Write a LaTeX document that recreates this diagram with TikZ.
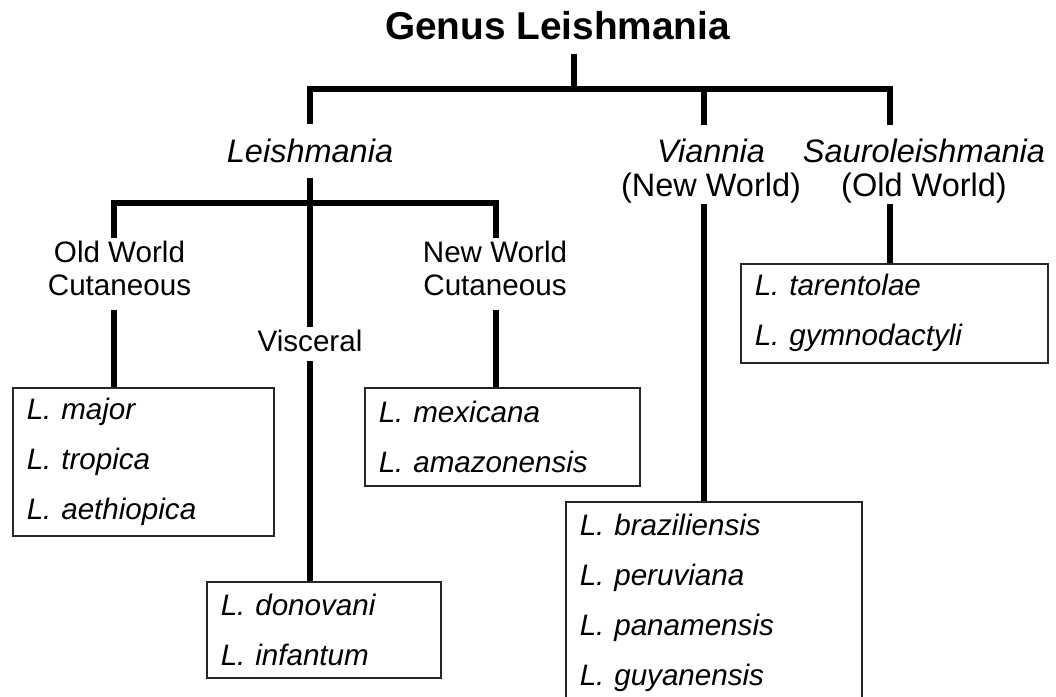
\documentclass[tikz,border=0pt]{standalone}
\usepackage{fontspec}
\setmainfont{Liberation Sans}
\usetikzlibrary{calc}
\begin{document}
\begin{tikzpicture}[x=1pt, y=-1pt,
    branch/.style = {line width=5.5pt},
    sub/.style = {font=\fontsize{32.5}{34}\selectfont, align=center, inner sep=0pt},
    grp/.style = {font=\fontsize{29.6}{33}\selectfont, align=center, inner sep=0pt},
    spp/.style = {draw=black!85, line width=1.5pt, anchor=north west, inner xsep=14pt, inner ysep=0pt,
                  align=left, font=\fontsize{29.6}{50}\selectfont\itshape}]
    \useasboundingbox (0,0) rectangle (1056,696);
    \clip (0,0) rectangle (1056,696);
    \node (title) at (557.5,39.5) [anchor=base, inner sep=0pt, font=\fontsize{38.8}{44}\selectfont\bfseries] {Genus Leishmania};
    \node[sub] (leish) at (310,162) [anchor=base] {\itshape Leishmania};
    \node[sub] (vian) at (711,138.7) [anchor=north] {{\itshape Viannia}\\(New World)};
    \node[sub] (sauro) at (924,138.7) [anchor=north] {{\itshape Sauroleishmania}\\(Old World)};
    \node[grp] (ow) at (119.5,240.5) [anchor=north] {Old World\\Cutaneous};
    \node[grp] (nw) at (495,240.5) [anchor=north] {New World\\Cutaneous};
    \node[grp] (visc) at (310,351) [anchor=base] {Visceral};
    \node[spp, text width=233pt, minimum height=148pt] (major) at (12,387) {L. major\\L. tropica\\L. aethiopica};
    \node[spp, text width=206pt, minimum height=96pt] (donov) at (206,581) {L. donovani\\L. infantum};
    \node[spp, text width=247pt, minimum height=98pt] (mexic) at (364,387) {L. mexicana\\L. amazonensis};
    \node[spp, text width=268pt, minimum height=202pt] (brazil) at (565,501) {L. braziliensis\\L. peruviana\\L. panamensis\\L. guyanensis};
    \node[spp, text width=279pt, minimum height=99pt] (taren) at (740,263) {L. tarentolae\\L. gymnodactyli};
    \coordinate (top) at (574,89);
    \coordinate (lbar) at (310,203);
    \draw[branch] ($(title.south)+(16.5,13.5)$) -- (top);
    \draw[branch] ($(leish.north)+(0,-14)$) |- (top) -| ($(sauro.north)+(-34,-14)$);
    \draw[branch] ($(vian.north)+(-7,-14)$) |- (top);
    \draw[branch] ($(ow.north)+(-5.5,-2.5)$) |- (lbar) -| ($(nw.north)+(1,-2.5)$);
    \draw[branch] ($(leish.south)+(0,15)$) -- ($(visc.north)+(0,-2.5)$);
    \draw[branch] ($(ow.south)+(-5.5,14)$) -- ($(major.north west)+(102,0)$);
    \draw[branch] ($(visc.south)+(0,10)$) -- ($(donov.north west)+(104,0)$);
    \draw[branch] ($(nw.south)+(1,14)$) -- ($(mexic.north west)+(132,0)$);
    \draw[branch] ($(vian.south)+(-7,0.5)$) -- ($(brazil.north west)+(139,0)$);
    \draw[branch] ($(sauro.south)+(-34,0.5)$) -- ($(taren.north west)+(150,0)$);
\end{tikzpicture}
\end{document}
